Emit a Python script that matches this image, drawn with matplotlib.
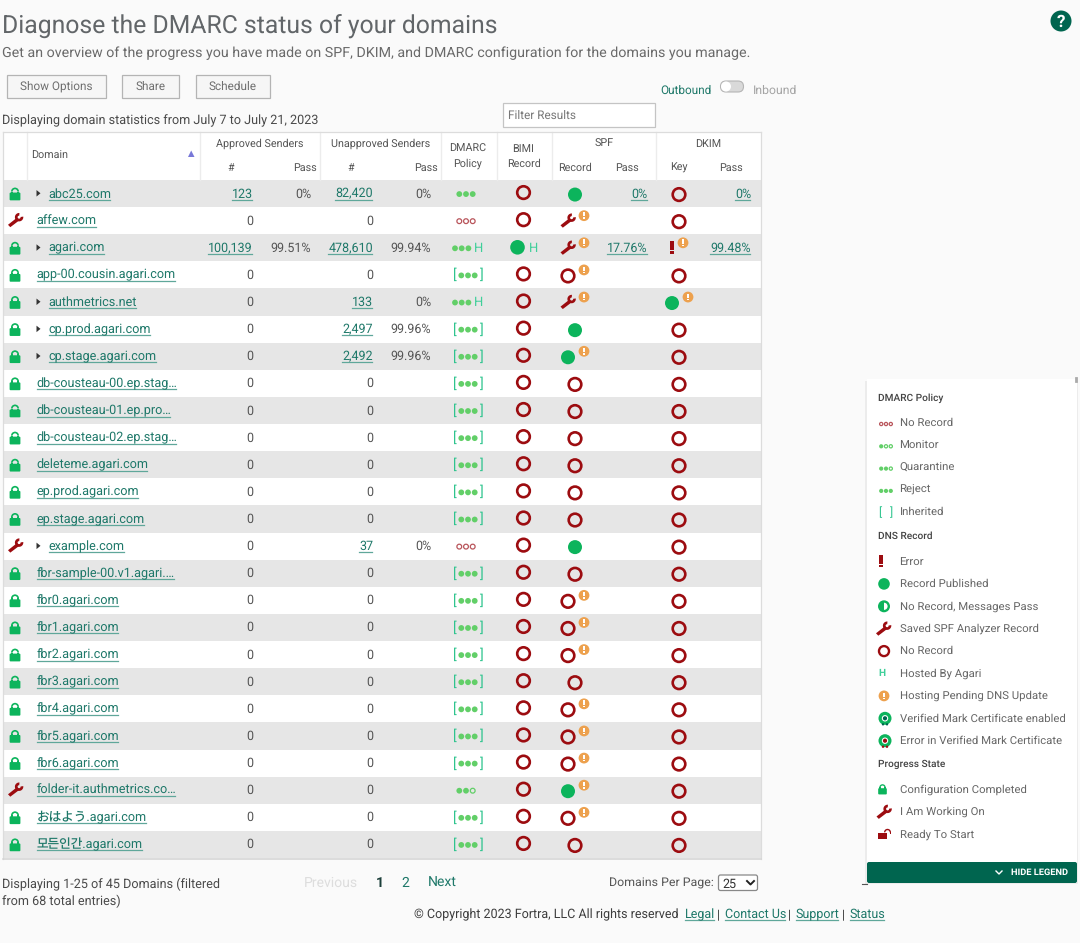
import matplotlib
matplotlib.use("Agg")
import matplotlib.pyplot as plt
from matplotlib.patches import Circle, Rectangle, Wedge, FancyBboxPatch, Polygon

domains = ["abc25.com", "affew.com", "agari.com", "app-00.cousin.agari.com", "authmetrics.net",
	"cp.prod.agari.com", "cp.stage.agari.com", "db-cousteau-00.ep.stag…", "db-cousteau-01.ep.pro…",
	"db-cousteau-02.ep.stag…", "deleteme.agari.com", "ep.prod.agari.com", "ep.stage.agari.com",
	"example.com", "fbr-sample-00.v1.agari.…", "fbr0.agari.com", "fbr1.agari.com", "fbr2.agari.com",
	"fbr3.agari.com", "fbr4.agari.com", "fbr5.agari.com", "fbr6.agari.com",
	"folder-it.authmetrics.co…", "おはよう.agari.com", "모든인간.agari.com"]
state = ["lock", "wrench", "lock", "lock", "lock", "lock", "lock", "lock", "lock", "lock", "lock", "lock", "lock",
	"wrench", "lock", "lock", "lock", "lock", "lock", "lock", "lock", "lock", "wrench", "lock", "lock"]
expand = [0, 2, 4, 5, 6, 13]
approved = ["123", "0", "100,139"] + ["0"] * 22
approved_pass = ["0%", "", "99.51%"] + [""] * 22
unapproved = ["82,420", "0", "478,610", "0", "133", "2,497", "2,492", "0", "0", "0", "0", "0", "0", "37"] + ["0"] * 11
unapproved_pass = ["0%", "", "99.94%", "", "0%", "99.96%", "99.96%", "", "", "", "", "", "", "0%"] + [""] * 11
policy = ["reject", "none", "reject", "reject", "reject", "reject", "reject", "reject", "reject", "reject",
	"reject", "reject", "reject", "none", "reject", "reject", "reject", "reject", "reject", "reject", "reject",
	"reject", "quarantine", "reject", "reject"]
inherited = [0, 0, 0, 1, 0, 1, 1, 1, 1, 1, 1, 1, 1, 0, 1, 1, 1, 1, 1, 1, 1, 1, 0, 1, 1]
hosted = [0, 0, 1, 0, 1] + [0] * 20
spf = ["pub", "wrench", "wrench", "none", "wrench", "pub", "pub", "none", "none", "none", "none", "none", "none",
	"pub", "none", "none", "none", "none", "none", "none", "none", "none", "pub", "none", "none"]
spf_pending = [0, 1, 1, 1, 1, 0, 1, 0, 0, 0, 0, 0, 0, 0, 0, 1, 1, 1, 0, 1, 1, 1, 1, 1, 0]
spf_pass = ["0%", "", "17.76%"] + [""] * 22
dkim = ["none", "none", "error", "none", "pub"] + ["none"] * 20
dkim_pending = [0, 0, 1, 0, 1] + [0] * 20
dkim_pass = ["0%", "", "99.48%"] + [""] * 22
legend_policy = ["No Record", "Monitor", "Quarantine", "Reject", "Inherited"]
legend_dns = ["Error", "Record Published", "No Record, Messages Pass", "Saved SPF Analyzer Record", "No Record",
	"Hosted By Agari", "Hosting Pending DNS Update", "Verified Mark Certificate enabled",
	"Error in Verified Mark Certificate"]
legend_progress = ["Configuration Completed", "I Am Working On", "Ready To Start"]

RED = "#9c0c10"
GREEN = "#0cb45c"
DOT = "#62cf68"
ORANGE = "#eda14e"
TEAL = "#1e7869"
GRAY = "#555555"
DARK = "#00654f"
FONT = ["Roboto", "Noto Sans CJK JP", "DejaVu Sans"]

plt.rcParams["text.hinting"] = "no_hinting"
plt.rcParams["text.hinting_factor"] = 8

fig = plt.figure(figsize=(10.8, 9.43), dpi=100, facecolor="#fafafa")
ax = fig.add_axes([0, 0, 1, 1])
ax.set_xlim(0, 1080)
ax.set_ylim(943, 0)
ax.axis("off")


def txt(x, y, s, px=13, color=GRAY, ha="left", weight="normal", z=5):
	return ax.text(x, y - 1, s, fontsize=px * 0.72, color=color, ha=ha, va="center_baseline", family=FONT,
		fontweight=weight, zorder=z)


def link(x, y, s, px=13, ha="left"):
	t = txt(x, y, s, px, TEAL, ha)
	box = t.get_window_extent(fig.canvas.get_renderer())
	ax.plot([box.x0, box.x1 - 1], [y + 6, y + 6], color="#5fa79a", lw=0.9, zorder=4)
	return t


def rect(x0, y0, x1, y1, fc, ec="none", lw=0, z=1):
	ax.add_patch(Rectangle((x0, y0), x1 - x0, y1 - y0, fc=fc, ec=ec, lw=lw, zorder=z))


def dot(x, y, r, color=GREEN):
	ax.add_patch(Circle((x, y), r, fc=color, ec="none", zorder=6))


def ring(x, y, r=6.3, color=RED, lw=1.9):
	ax.add_patch(Circle((x, y), r, fc="none", ec=color, lw=lw, zorder=6))


def pending(x, y):
	dot(x, y, 5.4, ORANGE)
	rect(x - 0.9, y - 3.4, x + 0.9, y + 0.8, "white", z=7)
	rect(x - 0.9, y + 1.7, x + 0.9, y + 3.4, "white", z=7)


def bang(x, y, s=1.0):
	rect(x - 1.8 * s, y - 7.5 * s, x + 1.8 * s, y + 2.5 * s, RED, z=6)
	rect(x - 1.8 * s, y + 4 * s, x + 1.8 * s, y + 7 * s, RED, z=6)


def lock(x, y, s=1.0, color=GREEN):
	ax.add_patch(FancyBboxPatch((x - 5.4 * s, y - 1 * s), 10.8 * s, 7.8 * s, boxstyle="round,pad=0,rounding_size=1", fc=color,
		ec="none", zorder=6))
	ax.add_patch(Wedge((x, y - 2 * s), 4 * s, 180, 360, width=1.7 * s, fc=color, ec="none", zorder=6))
	rect(x - 4 * s, y - 2 * s, x - 2.3 * s, y, color, z=6)
	rect(x + 2.3 * s, y - 2 * s, x + 4 * s, y, color, z=6)


def open_lock(x, y):
	rect(x - 6, y - 1, x + 2.5, y + 5, RED, z=6)
	ax.add_patch(Wedge((x + 3.5, y - 2), 3.5, 180, 360, width=1.4, fc=RED, ec="none", zorder=6))
	rect(x + 5.6, y - 2, x + 7, y, RED, z=6)


def wrench(x, y, s=1.0):
	ax.add_patch(Polygon([(x - 7.5 * s, y + 4.6 * s), (x + 1.5 * s, y - 2.5 * s), (x + 3.8 * s, y + 0.2 * s), (x - 5.2 * s, y + 7 * s)],
		closed=True, fc=RED, ec="none", zorder=6))
	ax.add_patch(Wedge((x + 3.6 * s, y - 3 * s), 4.2 * s, 352, 275, width=2.7 * s, fc=RED, ec="none", zorder=6))


def dots(x, y, filled, color=DOT, r=2.9, step=6.7):
	for k in range(3):
		cx = x + (k - 1) * step
		if k < filled:
			dot(cx, y, r, color)
		else:
			ax.add_patch(Circle((cx, y), r - 0.5, fc="none", ec=color, lw=0.9, zorder=6))


def record(x, y, kind):
	if kind == "pub":
		dot(x, y, 7)
	elif kind == "none":
		ring(x, y)
	elif kind == "wrench":
		wrench(x, y - 1)
	elif kind == "error":
		bang(x, y - 1, 0.9)


def status_cell(col, y, kind, has_pending):
	# the icon moves left when the orange badge sits beside it
	if has_pending:
		record(col - 7, y + 1, kind)
		pending(col + 4 if kind == "error" else col + 9, y - 5)
	else:
		record(col, y + 1, kind)


def vmc(x, y, err):
	dot(x, y, 6.5)
	ax.add_patch(Circle((x, y), 3.2, fc="white", ec="none", zorder=7))
	dot_col = RED if err else DARK
	ax.add_patch(Circle((x, y), 2.1, fc=dot_col, ec="none", zorder=8))
	ax.add_patch(Circle((x + 2, y + 6), 1.2, fc=dot_col, ec="none", zorder=8))
	ax.add_patch(Circle((x - 2, y + 6), 1.2, fc=dot_col, ec="none", zorder=8))


# page header
rect(0, 0, 1080, 943, "#fafafa", z=0)
txt(2, 24, "Diagnose the DMARC status of your domains", 24.8, "#626669")
txt(2, 52.5, "Get an overview of the progress you have made on SPF, DKIM, and DMARC configuration for the domains you manage.", 14.28, "#6a6a6a")
dot(1061, 21, 10.5, DARK)
txt(1061, 22, "?", 17, "white", "center", "bold", 8)
for x0, x1, label in [(7, 106, "Show Options"), (122, 179, "Share"), (196, 270, "Schedule")]:
	rect(x0, 75, x1, 98, "#f6f6f6", "#b4b4b4", 0.9)
	txt((x0 + x1) / 2, 86.5, label, 11.8, "#6f6f6f", "center")
txt(660, 90, "Outbound", 11.8, TEAL)
ax.add_patch(FancyBboxPatch((720.5, 81), 23, 11, boxstyle="round,pad=0,rounding_size=5.5", fc="#d9d9d9", ec="#b5b5b5", lw=0.8, zorder=3))
dot(726, 86.5, 5, "white")
txt(753, 90, "Inbound", 12.2, "#a4a4a4")
rect(503, 102.5, 655, 127, "white", "#c4c4c4", 0.9)
txt(508, 115, "Filter Results", 11.7, "#777777")
txt(2, 120.5, "Displaying domain statistics from July 7 to July 21, 2023", 12.6, "#4a4a4a")

# table header
top, row_h = 180, 27.12
rect(3, 132, 760.5, 180, "white", z=1)
for x in [27, 199.5, 319.5, 440.5, 496.5, 551.5, 655.5]:
	ax.plot([x, x], [132, 180], color="#ececec", lw=1, zorder=2)
txt(31, 156, "Domain", 10.8, GRAY)
ax.add_patch(Polygon([(188, 157), (194.5, 157), (191.2, 150.5)], closed=True, fc="#7878d8", ec="none", zorder=3))
for x, y, label in [(259.5, 144, "Approved Senders"), (231, 168, "#"), (305, 168, "Pass"), (380.5, 144, "Unapproved Senders"),
		(351, 168, "#"), (425.5, 168, "Pass"), (468, 149, "DMARC"), (468, 164, "Policy"), (523.5, 149, "BIMI"),
		(523.5, 164, "Record"), (604, 144, "SPF"), (575, 168, "Record"), (627, 168, "Pass"), (708, 144, "DKIM"),
		(679, 168, "Key"), (731, 168, "Pass")]:
	txt(x, y, label, 10.8, GRAY, "center")

# table rows
for i in range(len(domains)):
	y0 = top + i * row_h
	y = y0 + row_h / 2
	rect(3, y0, 760.5, y0 + row_h, "#e6e6e6" if i % 2 == 0 else "white")
	if state[i] == "lock":
		lock(15, y)
	else:
		wrench(15.5, y - 0.5)
	if i in expand:
		ax.add_patch(Polygon([(36.5, y - 3.5), (36.5, y + 3), (40.5, y - 0.3)], closed=True, fc="#333333", ec="none", zorder=5))
		link(48.5, y, domains[i], 12.6)
	else:
		link(36.5, y, domains[i], 12.6)
	for col, vals in [(253, approved), (373, unapproved)]:
		if vals[i] == "0":
			txt(col, y, vals[i], 12.5, GRAY, "right")
		else:
			link(col, y, vals[i], 12.5, "right")
	txt(311, y, approved_pass[i], 12.5, GRAY, "right")
	txt(431, y, unapproved_pass[i], 12.5, GRAY, "right")
	if spf_pass[i]:
		link(647.5, y, spf_pass[i], 12.5, "right")
	if dkim_pass[i]:
		link(751, y, dkim_pass[i], 12.5, "right")

	# DMARC policy dots
	filled = {"none": 0, "monitor": 1, "quarantine": 2, "reject": 3}[policy[i]]
	colour = "#b9555b" if filled == 0 else DOT
	if inherited[i]:
		dots(468, y + 0.5, filled, colour)
		txt(454.5, y, "[", 14, "#2fc48e", "center")
		txt(482, y, "]", 14, "#2fc48e", "center")
	elif hosted[i]:
		dots(461.7, y + 0.5, filled, colour)
		txt(478.5, y, "H", 13, "#3fcf9a", "center")
	else:
		dots(466, y + 0.5, filled, colour)

	# BIMI, SPF and DKIM records
	if domains[i] == "agari.com":
		dot(517.5, y - 0.5, 7.3)
		txt(534, y, "H", 13, "#3fcf9a", "center")
	else:
		ring(523.5, y - 1)
	status_cell(575, y, spf[i], spf_pending[i])
	status_cell(679, y, dkim[i], dkim_pending[i])

ax.plot([3, 3], [132, 858.5], color="#dcdcdc", lw=0.9, zorder=6)
ax.plot([760.5, 760.5], [132, 858.5], color="#dcdcdc", lw=0.9, zorder=6)
ax.plot([3, 760.5], [132, 132], color="#dcdcdc", lw=0.9, zorder=6)
ax.plot([3, 760.5], [858.5, 858.5], color="#d4d4d4", lw=1.1, zorder=6)

# under the table
txt(2, 883.5, "Displaying 1-25 of 45 Domains (filtered", 12.6, "#4a4a4a")
txt(2, 901, "from 68 total entries)", 12.6, "#4a4a4a")
txt(304, 882.5, "Previous", 14, "#dddddd")
txt(380, 882.5, "1", 14, "#1c3f3a", "center", "bold")
txt(405.5, 882.5, "2", 14, TEAL, "center")
txt(427.5, 882.5, "Next", 14, TEAL)
txt(609, 883.5, "Domains Per Page:", 12.4, GRAY)
ax.add_patch(FancyBboxPatch((718.5, 875), 39, 15.5, boxstyle="round,pad=0,rounding_size=2", fc="white", ec="#888888", lw=0.9, zorder=3))
txt(722, 884, "25", 12.5, "#333333")
ax.plot([747, 750.5, 754], [881, 884.5, 881], color="#222222", lw=1.4, zorder=6)
txt(414, 914, "© Copyright 2023 Fortra, LLC All rights reserved", 12.5, "#3d3d3d")
x_links = [(685, "Legal"), (725, "Contact Us"), (795.5, "Support"), (849.5, "Status")]
for x, s in x_links:
	t = link(x, 914, s, 12.5)
for x in [718.5, 789.5, 843.5]:
	txt(x, 914, "|", 12.5, "#3d3d3d", "center")

# legend panel
rect(865, 381, 1078, 884, "#ececec", z=1)
rect(867, 379, 1077, 883, "white", z=2)
ax.plot([1076, 1076], [378, 381], color="#aaaaaa", lw=2, zorder=3)
ax.plot([862, 867], [883.5, 883.5], color="#555555", lw=0.8, zorder=3)
ax.add_patch(FancyBboxPatch((867, 862), 210, 21, boxstyle="round,pad=0,rounding_size=2", fc=DARK, ec="none", zorder=3))
ax.plot([996, 999, 1002], [871, 874, 871], color="white", lw=1, zorder=6)
txt(1011, 873, "HIDE LEGEND", 9.3, "white", weight="bold")
txt(878, 398, "DMARC Policy", 10.1, "#444444", weight="medium")
txt(878, 536.5, "DNS Record", 10.1, "#444444", weight="medium")
txt(878, 764.5, "Progress State", 10.1, "#444444", weight="medium")

for i, s in enumerate(legend_policy):
	y = 423 + i * 22.3
	txt(899.5, y, s, 11.4, "#666666")
	if i < 4:
		dots(886, y + 1, i, "#b9555b" if i == 0 else DOT, 2.1, 4.8)
	else:
		txt(880, y, "[", 12, "#2fc48e", "center")
		txt(892, y, "]", 12, "#2fc48e", "center")

for i, s in enumerate(legend_dns):
	y = 561.5 + i * 22.4
	txt(899.5, y, s, 11.4, "#666666")
	if i == 0:
		bang(881, y, 0.85)
	elif i == 1:
		dot(884, y, 5.8)
	elif i == 2:
		ring(884, y, 4.8, GREEN, 1.7)
		ax.add_patch(Wedge((884, y), 4.8, 90, 270, fc=GREEN, ec="none", zorder=6))
	elif i == 3:
		wrench(883.5, y)
	elif i == 4:
		ring(884, y, 5, RED, 1.7)
	elif i == 5:
		txt(882, y, "H", 10, "#3fcf9a", "center", "bold")
	elif i == 6:
		pending(884, y)
	elif i == 7:
		vmc(885, y, False)
	else:
		vmc(885, y, True)

for i, s in enumerate(legend_progress):
	y = 789.5 + i * 22.4
	txt(899.5, y, s, 11.4, "#666666")
	if i == 0:
		lock(882.5, y - 0.5, 0.8)
	elif i == 1:
		wrench(884, y)
	else:
		open_lock(884, y)

plt.savefig("out.png", dpi=100, facecolor=fig.get_facecolor())
